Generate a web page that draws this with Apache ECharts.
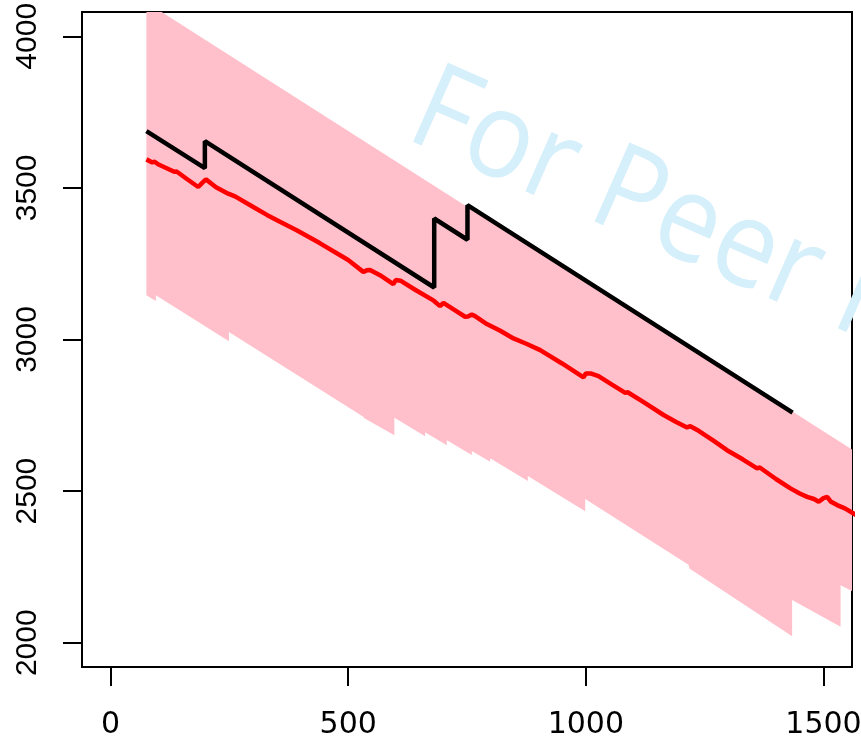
<!DOCTYPE html>
<html>
<head>
<meta charset="utf-8">
<script src="https://cdn.jsdelivr.net/npm/echarts@6/dist/echarts.min.js"></script>
<style>
  html, body { margin: 0; padding: 0; background: #fff; }
  #chart { width: 861px; height: 742px; }
</style>
</head>
<body>
<div id="chart"></div>
<script>
// Tick values
const xTicks = [0, 500, 1000, 1500];
const yTicks = [2000, 2500, 3000, 3500, 4000];

// Black line (x, y)
const blackLine = [
  [75.5, 3687], [198.5, 3565], [198.5, 3654], [681, 3171.5],
  [681, 3399], [751, 3329], [751, 3443], [1435, 2759]
];

// Red line (x, y)
const redLine = [
  [75.5, 3594], [88, 3584], [93, 3586], [100, 3578], [125, 3560], [134, 3553], [139, 3554],
  [160, 3530], [184.5, 3503], [194, 3518], [200.7, 3528], [222, 3502], [247.6, 3481],
  [262, 3472], [300.3, 3437], [330, 3410], [356.5, 3388], [391.7, 3360],
  [440, 3318], [500, 3262], [531.9, 3223], [539, 3228], [546, 3229], [567, 3212],
  [595, 3182.5], [600, 3196], [610, 3194], [640, 3165], [680, 3128], [693.4, 3110],
  [700.4, 3121], [720, 3101], [746, 3075], [752, 3076], [760, 3082], [767, 3077],
  [791.7, 3051], [820, 3029], [847.8, 3003.5], [876, 2985], [904, 2965],
  [950, 2921], [995.2, 2875], [1000, 2888], [1010, 2888], [1026.7, 2879],
  [1055, 2851], [1083, 2824], [1088, 2826], [1120, 2795], [1163.6, 2751],
  [1190, 2728], [1213, 2710], [1220, 2714], [1237.3, 2699], [1270, 2665],
  [1297, 2635], [1330, 2605], [1360.3, 2575], [1366, 2578], [1400, 2540],
  [1430.4, 2509], [1450, 2492], [1465.6, 2481], [1480, 2474], [1490, 2465],
  [1500, 2477], [1507.7, 2481], [1515, 2466], [1528.7, 2454], [1545, 2443],
  [1562.5, 2427], [1580, 2410]
];

// Confidence band: upper and lower edges (x, y)
const bandUpper = [
  [75.5, 4112], [750, 3438], [750, 3447], [1580, 2617]
];
const bandLower = [
  [75.5, 3146], [95.4, 3127], [95.4, 3146], [249.1, 2994], [249.1, 3025],
  [531.9, 2745], [534, 2740], [597.2, 2684], [597.2, 2742], [661.8, 2681],
  [661.8, 2694], [707.5, 2651], [707.5, 2668], [760.2, 2619], [760.2, 2632],
  [798.7, 2597], [798.7, 2608], [878, 2533], [878, 2550], [998.7, 2434],
  [998.7, 2474], [1216, 2257], [1218, 2245], [1434, 2021], [1434, 2141],
  [1536, 2053], [1536, 2190], [1580, 2155]
];

const chart = echarts.init(document.getElementById('chart'), null, { renderer: 'canvas' });

const option = {
  animation: false,
  backgroundColor: '#ffffff',
  grid: {
    left: 82, top: 12, width: 770, height: 655,
    containLabel: false,
    outerBoundsMode: 'none',
    show: true, borderColor: '#000', borderWidth: 2, backgroundColor: 'transparent'
  },
  xAxis: {
    type: 'value', min: -60, max: 1560,
    axisLine: { show: false, onZero: false },
    splitLine: { show: false },
    axisTick: { show: true, inside: false, length: 19, customValues: xTicks,
      lineStyle: { color: '#000', width: 2 } },
    axisLabel: { show: true, customValues: xTicks, margin: 43, fontSize: 30,
      fontFamily: 'DejaVu Sans', color: '#000',
      formatter: v => String(v) }
  },
  yAxis: {
    type: 'value', min: 1920, max: 4080,
    axisLine: { show: false, onZero: false },
    splitLine: { show: false },
    axisTick: { show: true, inside: false, length: 19, customValues: yTicks,
      lineStyle: { color: '#000', width: 2 } },
    axisLabel: { show: true, customValues: yTicks, rotate: 90, margin: 39, fontSize: 30,
      fontFamily: 'Liberation Sans', color: '#000',
      formatter: v => String(v) }
  },
  graphic: [{
    type: 'text',
    x: 417, y: 106,
    rotation: -0.4136,
    scaleX: 1, scaleY: 1.09,
    z: 100,
    silent: true,
    style: {
      text: 'For Peer Review',
      fontSize: 111,
      fontFamily: 'Open Sans',
      fill: '#d5effb',
      align: 'left',
      verticalAlign: 'middle'
    }
  }],
  series: [
    {
      type: 'custom',
      z: 1,
      silent: true,
      data: [[bandUpper[0][0], bandUpper[0][1]]],
      renderItem: function (params, api) {
        const pts = bandUpper.map(p => api.coord(p))
          .concat(bandLower.slice().reverse().map(p => api.coord(p)));
        const cs = params.coordSys;
        return {
          type: 'polygon',
          shape: { points: pts },
          style: { fill: '#FFC0CB', stroke: null },
          clipPath: { type: 'rect', shape: { x: cs.x, y: cs.y, width: cs.width, height: cs.height } }
        };
      }
    },
    {
      type: 'line', z: 3, data: redLine, showSymbol: false, symbol: 'none',
      lineStyle: { color: '#FF0000', width: 4.5 }, silent: true
    },
    {
      type: 'line', z: 4, data: blackLine, showSymbol: false, symbol: 'none',
      lineStyle: { color: '#000000', width: 4.5 }, silent: true
    }
  ]
};
chart.setOption(option);
</script>
</body>
</html>
